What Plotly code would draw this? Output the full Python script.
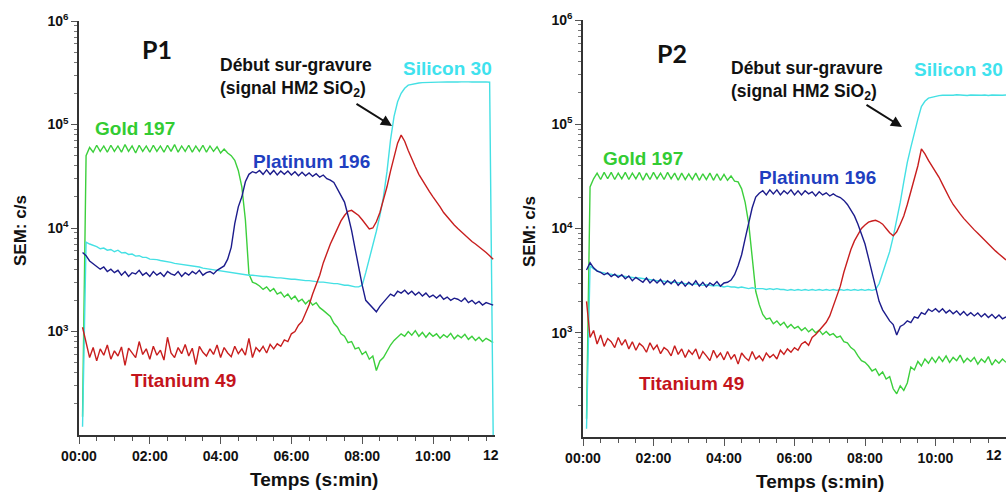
import plotly.graph_objects as go

# ---------------- data (counts per second, SEM) ----------------
# sampling times in minutes
T_P1 = [round(0.1 * i, 1) for i in range(1, 118)]   # 0.1 .. 11.7
T_P2 = [round(0.1 * i, 1) for i in range(1, 121)]   # 0.1 .. 12.0

GOLD_P1 = [150, 50000, 60000, 54000, 63000, 55000, 62000, 54000, 63000, 55000,
           62000, 54000, 64000, 55000, 62000, 53000, 63000, 55000, 62000, 54000,
           63000, 55000, 62000, 54000, 63000, 55000, 64000, 54000, 62000, 55000,
           63000, 54000, 62000, 55000, 63000, 54000, 62000, 55000, 61000, 53000,
           58000, 53000, 50000, 45000, 36000, 25000, 12000, 3600, 3000, 2900,
           2750, 2550, 2700, 2450, 2600, 2300, 2400, 2150, 2300, 2050,
           2200, 1950, 2050, 1850, 2000, 1800, 1900, 1700, 1600, 1500,
           1400, 1200, 1100, 950, 900, 780, 800, 680, 700, 600,
           640, 540, 580, 420, 520, 560, 650, 740, 820, 880,
           950, 900, 1000, 920, 1020, 900, 980, 880, 970, 900,
           950, 860, 930, 880, 960, 850, 920, 870, 940, 840,
           900, 820, 880, 800, 860, 820, 780]
PT_P1 = [5800, 5400, 4800, 4500, 4300, 4000, 4200, 3800, 4000, 3700,
         3900, 3500, 3800, 3400, 3700, 3600, 3900, 3500, 3700, 3400,
         3800, 3500, 3700, 3400, 3800, 3600, 3500, 3800, 3400, 3700,
         3500, 3800, 3600, 3900, 3500, 3700, 3800, 3600, 3900, 4100,
         4300, 5000, 6500, 11000, 16000, 20000, 28000, 33000, 35000, 34000,
         36000, 33000, 36500, 33000, 36000, 32500, 35500, 33000, 35500, 32500,
         35000, 32000, 34500, 32000, 34000, 31500, 33500, 31000, 32500, 30000,
         29000, 27500, 24000, 21000, 17800, 13200, 9500, 6300, 4000, 2800,
         2000, 1850, 1700, 1550, 1750, 1900, 2100, 2300, 2200, 2450,
         2350, 2500, 2300, 2450, 2250, 2400, 2200, 2350, 2150, 2250,
         2100, 2250, 2050, 2150, 2000, 2100, 2050, 1950, 2100, 1900,
         2000, 1850, 1950, 1800, 1900, 1850, 1800]
SI_P1 = [120, 7300, 7000, 6800, 6600, 6300, 6400, 6100, 6200, 5900,
         6100, 5750, 5800, 5550, 5600, 5350, 5400, 5200, 5200, 5000,
         5000, 4950, 4850, 4800, 4700, 4650, 4550, 4500, 4450, 4400,
         4300, 4250, 4200, 4200, 4100, 4050, 4000, 3950, 3900, 3850,
         3800, 3750, 3700, 3700, 3600, 3600, 3550, 3500, 3500, 3450,
         3450, 3400, 3400, 3350, 3350, 3300, 3300, 3250, 3250, 3200,
         3200, 3150, 3150, 3100, 3100, 3050, 3050, 3000, 3000, 2950,
         2950, 2900, 2900, 2850, 2800, 2800, 2750, 2700, 2700, 2800,
         3700, 5000, 6600, 9300, 13200, 20000, 35000, 71000, 120000, 166000,
         200000, 224000, 240000, 245000, 250000, 252000, 254000, 255000, 256000, 257000,
         257000, 258000, 256000, 258000, 257000, 259000, 257000, 258000, 256000, 258000,
         257000, 258000, 256000, 257000, 258000, 256000, 100]
TI_P1 = [1100, 760, 560, 700, 520, 680, 590, 740, 540, 650,
         580, 710, 470, 690, 620, 560, 800, 600, 680, 540,
         720, 590, 660, 530, 880, 620, 560, 700, 610, 750,
         580, 690, 480, 720, 630, 580, 680, 600, 740, 560,
         700, 620, 570, 720, 610, 680, 590, 860, 560, 700,
         640, 720, 620, 750, 680, 760, 720, 830, 800, 950,
         1000, 1150, 1250, 1500, 1800, 2300, 2800, 3500, 4600, 5800,
         7000, 8300, 10000, 11700, 13200, 14500, 14800, 14100, 13200, 12000,
         10800, 9800, 10000, 11500, 14100, 18600, 25000, 35500, 50000, 66000,
         79000, 69000, 56000, 46000, 39000, 33000, 29000, 25000, 22500, 20000,
         18000, 16000, 14100, 12800, 11700, 10700, 9900, 9200, 8500, 7900,
         7400, 7000, 6600, 6200, 5800, 5400, 5000]

GOLD_P2 = [150, 25000, 30000, 34000, 29500, 34500, 30000, 34500, 29500, 34000,
           30000, 34500, 29500, 34000, 30000, 34500, 29000, 34000, 29500, 34500,
           30000, 34000, 29500, 34500, 30000, 34000, 29000, 34000, 29500, 33500,
           29500, 34000, 29000, 33500, 29500, 34000, 29000, 33500, 29000, 33000,
           29000, 32000, 28500, 28000, 24000, 17800, 11200, 5000, 2500, 1860,
           1500, 1350, 1380, 1220, 1300, 1180, 1260, 1120, 1200, 1100,
           1150, 1050, 1120, 1020, 1090, 1000, 1060, 960, 1030, 950,
           980, 900, 930, 820, 800, 720, 680, 600, 540, 520,
           480, 430, 450, 390, 420, 360, 380, 290, 260, 310,
           280, 330, 470, 440, 530, 480, 560, 510, 580, 520,
           590, 530, 600, 520, 580, 540, 610, 520, 570, 530,
           580, 500, 560, 520, 590, 490, 550, 510, 560, 520]
PT_P2 = [4000, 4700, 4200, 3900, 3800, 3600, 3750, 3450, 3650, 3400,
         3600, 3300, 3500, 3150, 3400, 3200, 3050, 3350, 3000, 3250,
         3000, 3250, 2900, 3150, 2950, 3200, 2850, 3100, 2800, 3050,
         2850, 3150, 2800, 3050, 2750, 3000, 2850, 3100, 2800, 3000,
         3050, 3200, 3600, 4400, 5600, 8000, 11200, 15800, 20000, 21800,
         23000, 21000, 23500, 21500, 23500, 21000, 23000, 21500, 23500, 21000,
         23000, 21000, 23000, 21500, 22500, 20500, 22500, 21000, 22000, 20500,
         21500, 20400, 19800, 18600, 17000, 15100, 13200, 11000, 8900, 7100,
         5200, 3700, 2700, 2000, 1660, 1450, 1300, 1200, 950, 1150,
         1200, 1300, 1250, 1420, 1380, 1560, 1500, 1680, 1600, 1700,
         1580, 1700, 1550, 1650, 1520, 1620, 1480, 1600, 1460, 1560,
         1450, 1550, 1420, 1520, 1400, 1500, 1380, 1480, 1360, 1420]
SI_P2 = [120, 4400, 4100, 3950, 3800, 3750, 3650, 3650, 3550, 3550,
         3500, 3450, 3450, 3400, 3350, 3350, 3300, 3250, 3250, 3200,
         3150, 3150, 3100, 3100, 3050, 3050, 3000, 3000, 2950, 2950,
         2900, 2950, 2900, 2850, 2900, 2850, 2800, 2850, 2800, 2750,
         2800, 2750, 2750, 2700, 2750, 2700, 2650, 2700, 2650, 2650,
         2650, 2600, 2650, 2600, 2650, 2600, 2600, 2550, 2600, 2550,
         2600, 2550, 2600, 2550, 2600, 2550, 2600, 2550, 2600, 2550,
         2600, 2550, 2600, 2550, 2600, 2550, 2600, 2550, 2600, 2550,
         2600, 2550, 2600, 2950, 3700, 4800, 6000, 8300, 12000, 17800,
         28000, 43000, 60000, 83000, 112000, 148000, 166000, 178000, 182000, 186000,
         188000, 190000, 189000, 191000, 190000, 192000, 190000, 191000, 189000, 191000,
         190000, 192000, 190000, 191000, 189000, 191000, 190000, 192000, 190000, 191000]
TI_P2 = [2000, 900, 1050, 780, 950, 740, 880, 820, 720, 900,
         760, 860, 700, 820, 680, 790, 740, 650, 800, 690,
         760, 630, 720, 680, 600, 750, 620, 700, 580, 680,
         620, 700, 560, 660, 600, 540, 680, 580, 640, 550,
         660, 560, 620, 500, 640, 580, 540, 660, 560, 600,
         540, 640, 580, 620, 560, 680, 620, 700, 650, 720,
         680, 780, 820, 760, 900, 960, 1050, 1150, 1260, 1450,
         1780, 2200, 2800, 3800, 5000, 6300, 7600, 8800, 10000, 10800,
         11500, 11800, 12000, 11600, 11000, 10000, 9100, 8500, 9300, 11000,
         13200, 17000, 22400, 30000, 40000, 58000, 52000, 45000, 40000, 35500,
         31000, 26500, 22400, 19500, 17000, 15100, 13800, 12500, 11400, 10500,
         9700, 9000, 8300, 7700, 7100, 6600, 6100, 5700, 5300, 5000]

X_TICKS = [0, 2, 4, 6, 8, 10]
X_TICKTEXT = ["00:00", "02:00", "04:00", "06:00", "08:00", "10:00"]
X_TICK_CUT = "12"          # the 12:00 label, cut by the picture's edge
Y_TICKS = [1e3, 1e4, 1e5, 1e6]
Y_TICKTEXT = ["10<sup>3</sup>", "10<sup>4</sup>", "10<sup>5</sup>", "10<sup>6</sup>"]
Y_MINOR = [m * 10 ** e for e in range(2, 6) for m in range(2, 10)]

PANELS = ["P1", "P2"]
SERIES_NAMES = ["Gold 197", "Silicon 30", "Titanium 49", "Platinum 196"]

# ---------------- styling ----------------
W, H = 1006, 493
LINE_COLORS = {"Gold 197": "#3ccf3c", "Silicon 30": "#44e0e4",
               "Titanium 49": "#c81e1e", "Platinum 196": "#1c1c8c"}
LABEL_COLORS = {"Gold 197": "#33cc33", "Silicon 30": "#3fe2ee",
                "Titanium 49": "#c4141c", "Platinum 196": "#1f3fc0"}
FONT = "Liberation Sans"


def px(x):
    return x / W


def py(y):
    return 1 - y / H


fig = go.Figure()

data = {
    "P1": (T_P1, {"Gold 197": GOLD_P1, "Silicon 30": SI_P1,
                  "Titanium 49": TI_P1, "Platinum 196": PT_P1}),
    "P2": (T_P2, {"Gold 197": GOLD_P2, "Silicon 30": SI_P2,
                  "Titanium 49": TI_P2, "Platinum 196": PT_P2}),
}

for k, p in enumerate(PANELS):
    t, series = data[p]
    xa = "x" if k == 0 else "x2"
    ya = "y" if k == 0 else "y2"
    for name in SERIES_NAMES:
        fig.add_trace(go.Scatter(x=t, y=series[name], mode="lines", name=name,
                                 line=dict(color=LINE_COLORS[name], width=1.4),
                                 xaxis=xa, yaxis=ya, showlegend=False))

# axes geometry (window pixels); cut12 = right edge of the clipped "12" label
geo = {
    "P1": dict(x0=79, x1=495, xr=(495 - 79) / 35.4, ytop=21, ybot=435, cut12=501),
    "P2": dict(x0=583, x1=1006, xr=12.0, ytop=20, ybot=437, cut12=1004),
}

tickfont_x = dict(family=FONT, size=14, color="#111111", weight="bold")
tickfont_y = dict(family=FONT, size=14, color="#111111", weight="bold")

for k, p in enumerate(PANELS):
    g = geo[p]
    sfx = "" if k == 0 else str(k + 1)
    fig.layout["xaxis" + sfx] = dict(
        domain=[px(g["x0"]), min(1.0, px(g["x1"]))], range=[0, g["xr"]],
        anchor="y" + sfx, showgrid=False, zeroline=False, automargin=False,
        showline=True, linecolor="#333333", linewidth=1.5,
        tickvals=X_TICKS, ticktext=X_TICKTEXT, ticks="outside", ticklen=7,
        tickcolor="#555555", tickwidth=1.2, tickfont=tickfont_x,
        minor=dict(ticks="outside", dtick=0.5, tick0=0, ticklen=4,
                   tickcolor="#555555", tickwidth=1),
    )
    fig.layout["yaxis" + sfx] = dict(
        domain=[py(g["ybot"]), py(g["ytop"])], type="log", range=[2, 6],
        anchor="x" + sfx, showgrid=False, zeroline=False, automargin=False,
        showline=True, linecolor="#333333", linewidth=1.5,
        tickvals=Y_TICKS, ticktext=Y_TICKTEXT, ticks="outside", ticklen=6,
        tickcolor="#555555", tickwidth=1.2, tickfont=tickfont_y,
        minor=dict(ticks="outside", tickvals=Y_MINOR, ticklen=3,
                   tickcolor="#777777", tickwidth=1),
    )

ann = []


def text(x, y, s, size, color="#111111", family=FONT, xanchor="center",
         align="center", textangle=0):
    ann.append(dict(x=px(x), y=py(y), xref="paper", yref="paper", text=s,
                    showarrow=False, xanchor=xanchor, yanchor="middle",
                    align=align, textangle=textangle,
                    font=dict(family=family, size=size, color=color,
                              weight="bold")))


label_pos = {
    "P1": {"title": (157, 49), "Gold 197": (135, 128), "Platinum 196": (311, 161),
           "Titanium 49": (183, 380), "Silicon 30": (447, 68),
           "debut": (218, 78), "arrow": ((355, 103), (392, 126)),
           "ylab": (20, 231), "xlab": (314, 479)},
    "P2": {"title": (672, 53), "Gold 197": (643, 158), "Platinum 196": (817, 177),
           "Titanium 49": (691, 383), "Silicon 30": (958, 70),
           "debut": (729, 80), "arrow": ((865, 104), (902, 127)),
           "ylab": (529, 232), "xlab": (820, 481)},
}

for p in PANELS:
    L = label_pos[p]
    text(*L["title"], p, 25, color="#111111", family="Lato")
    for name in SERIES_NAMES:
        text(*L[name], name, 19, color=LABEL_COLORS[name])
    text(L["debut"][0], L["debut"][1],
         "Début sur-gravure<br>(signal HM2 SiO<sub>2</sub>)", 17.5,
         xanchor="left", align="left")
    (tx, ty), (hx, hy) = L["arrow"]
    ann.append(dict(x=px(hx), y=py(hy), xref="paper", yref="paper", text="",
                    showarrow=True, ax=tx - hx, ay=ty - hy, arrowhead=2,
                    arrowsize=1.1, arrowwidth=2, arrowcolor="#111111"))
    text(*L["ylab"], "SEM: c/s", 17, textangle=-90)
    text(*L["xlab"], "Temps (s:min)", 19)
    ann.append(dict(x=px(geo[p]["cut12"]), y=py(455), xref="paper", yref="paper",
                    text=X_TICK_CUT, showarrow=False, xanchor="right",
                    yanchor="middle",
                    font=dict(family=FONT, size=14, color="#111111",
                              weight="bold")))

fig.update_layout(width=W, height=H,
                  margin=dict(l=0, r=0, t=0, b=0, pad=0, autoexpand=False),
                  paper_bgcolor="white", plot_bgcolor="white",
                  annotations=ann, showlegend=False)

# place the 1006x493 figure flush with the window (no default page margin)
fig.write_html("out.html",
               config={"displayModeBar": False},
               post_script="document.body.style.margin='0';"
                           "document.body.style.overflow='hidden';")
